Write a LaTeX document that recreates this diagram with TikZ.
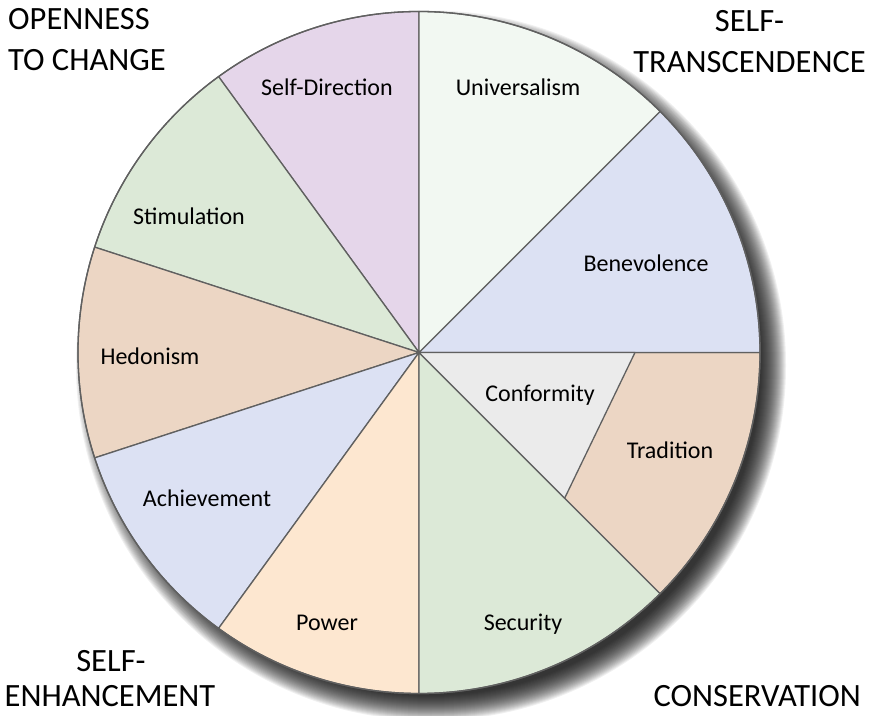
\documentclass[tikz,border=0pt]{standalone}
\usepackage{fontspec}
\setmainfont{Carlito}
\usetikzlibrary{calc}
\definecolor{lavender}{HTML}{E5D6EA}
\definecolor{mint}{HTML}{F2F8F2}
\definecolor{periwinkle}{HTML}{DCE1F3}
\definecolor{sage}{HTML}{DCE9D7}
\definecolor{tan}{HTML}{ECD6C4}
\definecolor{lightgrey}{HTML}{EBEBEB}
\definecolor{peach}{HTML}{FDE7D0}
\definecolor{edge}{HTML}{606060}
\begin{document}
\begin{tikzpicture}[x=1pt,y=1pt,
  slice/.style={draw=edge,line width=1.3pt,line join=round},
  lbl/.style={anchor=base,inner sep=0pt,font=\fontsize{24}{28}\selectfont},
  corner/.style={anchor=base,inner sep=0pt,font=\fontsize{32.5}{38}\selectfont}]
\useasboundingbox (0,0) rectangle (869,715);
\def\R{341}
\coordinate (c) at (419,362.5);

% soft drop shadow, built from stacked translucent discs
\foreach \i in {0,...,25}
  \fill[black,opacity=0.06] (431,349.5) circle[radius=330+\i];

% value sectors
\foreach \a/\b/\col in {90/126/lavender, 126/162/sage, 162/198/tan,
    198/234/periwinkle, 234/270/peach, 270/315/sage, 315/360/tan,
    0/45/periwinkle, 45/90/mint}
  \filldraw[slice,fill=\col] (c) -- ++(\a:\R) arc[start angle=\a,end angle=\b,radius=\R] -- cycle;

% conformity wedge inside the tradition sector
\coordinate (k1) at ($(c)+(0:216)$);
\coordinate (k2) at ($(c)+(-45:206)$);
\filldraw[slice,fill=lightgrey] (c) -- (k1) -- (k2) -- cycle;

\draw[edge,line width=1.3pt] (c) circle[radius=\R];

% sector labels
\node[lbl] (selfdir) at (327,619.5) {Self-Direction};
\node[lbl] (univ) at (518,619.5) {Universalism};
\node[lbl] (stim) at (189,490.5) {Stimulation};
\node[lbl] (benev) at (646,443.5) {Benevolence};
\node[lbl] (hedon) at (150,350.5) {Hedonism};
\node[lbl] (conf) at (540,313.5) {Conformity};
\node[lbl] (trad) at (670,256) {Tradition};
\node[lbl] (achv) at (207,208.5) {Achievement};
\node[lbl] (power) at (327,84.5) {Power};
\node[lbl] (secur) at (523,84.5) {Security};

% higher-order value groups
\node[corner,anchor=base west] (open1) at (8,685) {OPENNESS};
\node[corner,anchor=base west] (open2) at (8,644) {TO CHANGE};
\node[corner] (trans1) at (749.5,683) {SELF-};
\node[corner] (trans2) at (749.5,642) {TRANSCENDENCE};
\node[corner] (enh1) at (111,44) {SELF-};
\node[corner] (enh2) at (110,8.5) {ENHANCEMENT};
\node[corner,anchor=base east] (cons) at (861,8.5) {CONSERVATION};
\end{tikzpicture}
\end{document}
